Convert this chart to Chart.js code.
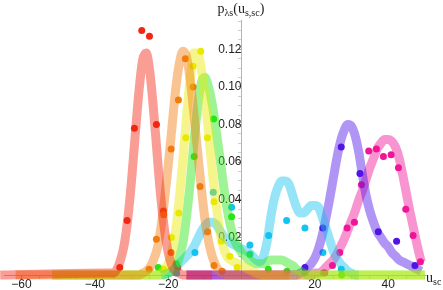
<!DOCTYPE html>
<html>
<head>
<meta charset="utf-8">
<script src="https://cdn.jsdelivr.net/npm/chart.js@4/dist/chart.umd.min.js"></script>
<style>
	body { margin: 0; background: #fff; }
	canvas { display: block; }
</style>
</head>
<body>
<canvas id="densityChart" width="443" height="290"></canvas>
<script>
// tick labels
const xTicks = [-60, -40, -20, 20, 40];
const yTicks = [0.02, 0.04, 0.06, 0.08, 0.10, 0.12];

// fitted density curves, [u, p]
const redCurve = [[-65.8,0],[-36,0.001],[-35,0.001],[-34,0.003],[-33,0.008],[-32,0.016],[-31,0.030],[-30,0.050],[-29,0.074],[-28,0.097],[-27,0.114],[-26,0.118],[-25,0.108],[-24,0.088],[-23,0.064],[-22,0.041],[-21,0.024],[-20,0.012],[-19,0.005],[-18,0.002],[-17,0.001],[-16,0],[-8,0]];
const orangeCurve = [[-61.6,0],[-28,0],[-27,0.001],[-26,0.002],[-25,0.004],[-24,0.008],[-23,0.014],[-22,0.025],[-21,0.040],[-20,0.058],[-19,0.078],[-18,0.098],[-17,0.112],[-16,0.119],[-15,0.116],[-14,0.104],[-13,0.086],[-12,0.066],[-11,0.047],[-10,0.030],[-9,0.018],[-8,0.010],[-7,0.005],[-6,0.002],[-5,0.001],[-4,0],[13,0]];
const yellowCurve = [[-51.6,0],[-23,0],[-22,0.001],[-21,0.003],[-20,0.006],[-19,0.012],[-18,0.023],[-17,0.040],[-16,0.061],[-15,0.084],[-14,0.104],[-13,0.118],[-12,0.118],[-11,0.110],[-10,0.095],[-9,0.076],[-8,0.056],[-7,0.039],[-6,0.024],[-5,0.015],[-4,0.010],[-3,0.008],[-2,0.007],[-1,0.006],[0,0.005],[1,0.004],[2,0.003],[3,0.002],[4,0.001],[6,0],[50,0]];
const greenCurve = [[-51.6,0],[-21,0],[-20,0.001],[-19,0.002],[-18,0.004],[-17,0.009],[-16,0.017],[-15,0.031],[-14,0.049],[-13,0.070],[-12,0.089],[-11,0.102],[-10,0.105],[-9,0.100],[-8,0.091],[-7,0.078],[-6,0.064],[-5,0.049],[-4,0.036],[-3,0.026],[-2,0.019],[-1,0.015],[0,0.012],[1,0.010],[2,0.008],[3,0.007],[4,0.006],[5,0.006],[6,0.006],[7,0.007],[8,0.008],[9,0.008],[10,0.008],[11,0.008],[12,0.007],[13,0.006],[14,0.005],[15,0.003],[16,0.002],[17,0.001],[18,0],[50,0]];
const cyanCurve = [[-22,0],[-20,0.001],[-19,0.002],[-18,0.004],[-17,0.006],[-16,0.008],[-15,0.010],[-14,0.012],[-13,0.015],[-12,0.019],[-11,0.023],[-10,0.026],[-9,0.028],[-8,0.028],[-7,0.027],[-6,0.024],[-5,0.021],[-4,0.019],[-3,0.017],[-2,0.016],[-1,0.015],[0,0.014],[1,0.013],[2,0.012],[3,0.010],[4,0.008],[5,0.007],[6,0.010],[7,0.018],[8,0.031],[9,0.041],[10,0.047],[11,0.050],[12,0.050],[13,0.048],[14,0.042],[15,0.036],[16,0.033],[17,0.033],[18,0.035],[19,0.037],[20,0.037],[21,0.036],[22,0.031],[23,0.025],[24,0.019],[25,0.013],[26,0.009],[27,0.006],[28,0.004],[29,0.002],[30,0.001],[31,0],[32,0]];
const purpleCurve = [[-15,0],[15,0],[16,0.001],[17,0.002],[18,0.004],[19,0.006],[20,0.009],[21,0.014],[22,0.021],[23,0.030],[24,0.040],[25,0.051],[26,0.062],[27,0.071],[28,0.077],[29,0.080],[30,0.079],[31,0.074],[32,0.065],[33,0.053],[34,0.042],[35,0.034],[36,0.028],[37,0.023],[38,0.020],[39,0.017],[40,0.015],[41,0.012],[42,0.010],[43,0.008],[44,0.007],[45,0.006],[46,0.005],[47,0.004],[48,0.003],[49,0.002]];
const pinkCurve = [[-15,0],[19,0],[20,0.001],[21,0.001],[22,0.002],[23,0.004],[24,0.006],[25,0.008],[26,0.011],[27,0.015],[28,0.019],[29,0.024],[30,0.029],[31,0.034],[32,0.040],[33,0.045],[34,0.051],[35,0.057],[36,0.062],[37,0.067],[38,0.070],[39,0.072],[40,0.072],[41,0.071],[42,0.068],[43,0.062],[44,0.053],[45,0.043],[46,0.033],[47,0.024],[48,0.015],[49,0.007]];

// sampled points
const redPts = [[-33.2,0.004],[-31.2,0.029],[-29.2,0.078],[-27.2,0.130],[-25.1,0.127],[-23.2,0.080],[-21.3,0.034],[-19.2,0.012],[-17.4,0.004]];
const orangePts = [[-25.2,0.003],[-23.2,0.019],[-21.2,0.032],[-19.2,0.067],[-17.2,0.093],[-15.3,0.115],[-13.2,0.100],[-11.3,0.047],[-9.3,0.023],[-7.5,0.005],[-5.3,0.002]];
const yellowPts = [[-21.2,0.003],[-19.1,0.020],[-17.1,0.033],[-15.2,0.073],[-13.2,0.111],[-11.1,0.119],[-9.3,0.073],[-7.5,0.039],[-5.5,0.018],[-3.2,0.010],[-1.2,0.004]];
const greenPts = [[-22.7,0.004],[-17.8,0.006],[-12.9,0.063],[-7.6,0.083],[-2.7,0.031],[2.3,0.011],[7.3,0.003],[12.4,0.002],[17.3,0.001],[22.3,0.001],[27.3,0]];
const cyanPts = [[-17.7,0.001],[-12.7,0.012],[-7.7,0.044],[-2.7,0.036],[2.3,0.016],[7.4,0.021],[12.3,0.029],[17.3,0.025],[22.2,0.012],[27.2,0.003]];
const purplePts = [[17.3,0.004],[22.2,0.025],[27.2,0.068],[32.3,0.054],[37.3,0.023],[42.3,0.018],[47.3,0.005]];
const pinkPts = [[22.7,0.001],[24.8,0.005],[26.8,0.012],[28.8,0.025],[30.8,0.028],[32.7,0.048],[34.7,0.066],[36.8,0.067],[38.7,0.063],[40.8,0.064],[42.8,0.057],[44.8,0.035],[46.8,0.021],[48.8,0.007]];

const series = [
	{ curve: redCurve, pts: redPts, rgb: '242,38,19' },
	{ curve: orangeCurve, pts: orangePts, rgb: '242,125,12' },
	{ curve: yellowCurve, pts: yellowPts, rgb: '232,232,0' },
	{ curve: greenCurve, pts: greenPts, rgb: '40,230,20' },
	{ curve: cyanCurve, pts: cyanPts, rgb: '20,195,240' },
	{ curve: purpleCurve, pts: purplePts, rgb: '80,20,230' },
	{ curve: pinkCurve, pts: pinkPts, rgb: '240,20,150' },
];

const toXY = arr => arr.map(p => ({ x: p[0], y: p[1] }));

function buildDatasets() {
	const sets = [];
	series.forEach((s, i) => {
		// red curve ends up on top, all dots underneath the curves
		sets.push({
			type: 'line',
			data: toXY(s.curve),
			borderColor: 'rgba(' + s.rgb + ',0.45)',
			borderWidth: 9,
			borderJoinStyle: 'round',
			cubicInterpolationMode: 'monotone',
			pointRadius: 0,
			fill: false,
			clip: false,
			order: i,
		});
		sets.push({
			type: 'scatter',
			data: toXY(s.pts),
			backgroundColor: 'rgb(' + s.rgb + ')',
			pointRadius: 3.5,
			pointBorderWidth: 0,
			clip: false,
			order: 40 - i,
		});
	});
	return sets;
}

const tickFont = { family: '"Liberation Sans", Arial, sans-serif', size: 12 };
const isTick = (list, v) => list.some(t => Math.abs(t - v) < 1e-9);

// axis labels in Mathematica style: p_λs(u_s,sc) on top, u_sc at the right end
const axisTitles = {
	id: 'axisTitles',
	afterDraw(chart) {
		const c = chart.ctx;
		const area = chart.chartArea;
		const x0 = chart.scales.x.getPixelForValue(0);
		const big = '14px "Liberation Serif", "Times New Roman", serif';
		const small = '10px "Liberation Serif", "Times New Roman", serif';
		c.save();
		c.fillStyle = '#222';
		c.textBaseline = 'alphabetic';
		c.textAlign = 'left';
		const parts = [['p', big, 0], ['\u03bbs', small, 3], ['(u', big, 0], ['s,sc', small, 3], [')', big, 0]];
		let x = x0 - 24;
		const base = area.top - 7;
		parts.forEach(([t, f, dy]) => {
			c.font = f;
			c.fillText(t, x, base + dy);
			x += c.measureText(t).width;
		});
		const yb = chart.scales.y.getPixelForValue(0) + 7;
		c.font = big;
		c.fillText('u', area.right + 1, yb);
		const w = c.measureText('u').width;
		c.font = small;
		c.fillText('sc', area.right + 1 + w, yb + 3);
		c.restore();
	}
};

function renderChart() {
	const ctx = document.getElementById('densityChart').getContext('2d');

	new Chart(ctx, {
		type: 'line',
		data: { datasets: buildDatasets() },
		options: {
			responsive: false,
			animation: false,
			layout: { padding: { left: 0, right: 18, top: 20, bottom: 15 } },
			plugins: {
				legend: { display: false },
				tooltip: { enabled: false },
			},
			scales: {
				x: {
					type: 'linear',
					min: -64.77,
					max: 50.04,
					position: { y: 0 },
					border: { display: true, color: '#b4b4b4' },
					grid: {
						drawOnChartArea: false,
						drawTicks: true,
						tickLength: 3,
						tickColor: c => isTick(xTicks, c.tick.value) ? '#999' : '#d0d0d0',
					},
					ticks: {
						stepSize: 5,
						includeBounds: false,
						autoSkip: false,
						maxRotation: 0,
						padding: -1,
						color: '#222',
						font: tickFont,
						callback: v => isTick(xTicks, v) ? String(v).replace('-', '\u2212') : '',
					},
				},
				y: {
					type: 'linear',
					min: 0,
					max: 0.1356,
					position: { x: 0 },
					border: { display: true, color: '#b4b4b4' },
					grid: {
						drawOnChartArea: false,
						drawTicks: true,
						tickLength: 3,
						tickColor: c => isTick(yTicks, c.tick.value) ? '#999' : '#d0d0d0',
					},
					ticks: {
						stepSize: 0.005,
						includeBounds: false,
						autoSkip: false,
						padding: -1,
						color: '#222',
						font: tickFont,
						callback: v => isTick(yTicks, v) ? v.toFixed(2) : '',
					},
				},
			},
		},
		plugins: [axisTitles],
	});
}

renderChart();
</script>
</body>
</html>
